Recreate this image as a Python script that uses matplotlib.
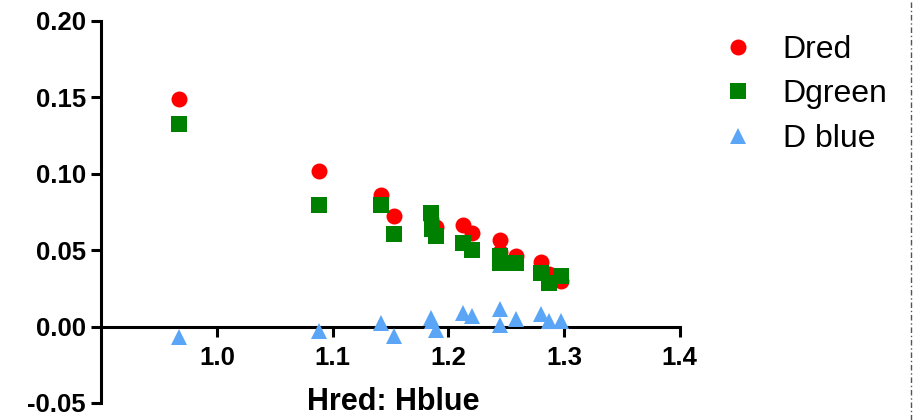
import matplotlib
matplotlib.use("Agg")
import matplotlib.pyplot as plt
from matplotlib.lines import Line2D

# ---- data ----
hratio = [0.967, 1.088, 1.142, 1.153, 1.185, 1.186, 1.189, 1.213, 1.220,
          1.245, 1.245, 1.258, 1.280, 1.287, 1.297]
d_red = [0.1487, 0.1015, 0.0863, 0.0721, 0.0700, 0.0660, 0.0650, 0.0667, 0.0613,
         0.0565, 0.0485, 0.0461, 0.0421, 0.0341, 0.0297]
d_green = [0.1326, 0.0798, 0.0798, 0.0607, 0.0744, 0.0635, 0.0591, 0.0548, 0.0500,
           0.0459, 0.0416, 0.0417, 0.0352, 0.0287, 0.0330]
d_blue = [-0.0070, -0.0031, 0.0026, -0.0061, 0.0054, 0.0035, -0.0024, 0.0091, 0.0069,
          0.0113, 0.0010, 0.0048, 0.0085, 0.0033, 0.0037]
series_names = ["Dred", "Dgreen", "D blue"]
x_ticks = [1.0, 1.1, 1.2, 1.3, 1.4]
x_ticklabels = ["1.0", "1.1", "1.2", "1.3", "1.4"]
y_ticks = [-0.05, 0.00, 0.05, 0.10, 0.15, 0.20]
y_ticklabels = ["-0.05", "0.00", "0.05", "0.10", "0.15", "0.20"]
x_label = "Hred: Hblue"

plt.rcParams['font.family'] = ['Liberation Sans', 'DejaVu Sans']

W, H = 913, 420
fig = plt.figure(figsize=(W / 100, H / 100), dpi=100)
ax = fig.add_axes([101.3 / W, 17 / H, 578.5 / W, 382.3 / H])

ms = 11.5
ax.plot(hratio, d_red, linestyle='none', marker='o', markersize=ms, color='#FF0000',
        markeredgewidth=0, label=series_names[0], zorder=3, clip_on=False)
ax.plot(hratio, d_green, linestyle='none', marker='s', markersize=ms, color='#008000',
        markeredgewidth=0, label=series_names[1], zorder=3, clip_on=False)
ax.plot(hratio, d_blue, linestyle='none', marker='^', markersize=ms, color='#5AA5F5',
        markeredgewidth=0, label=series_names[2], zorder=3, clip_on=False)

ax.set_xlim(0.9, 1.4)
ax.set_ylim(-0.05, 0.20)
ax.spines['top'].set_visible(False)
ax.spines['right'].set_visible(False)
ax.spines['bottom'].set_position(('data', 0))
for s in ('left', 'bottom'):
    ax.spines[s].set_linewidth(2.2)
    ax.spines[s].set_color('black')

ax.set_xticks(x_ticks)
ax.set_xticklabels(x_ticklabels, fontsize=18.5, fontweight='bold')
ax.set_yticks(y_ticks)
ax.set_yticklabels(y_ticklabels, fontsize=18.5, fontweight='bold')
ax.tick_params(axis='both', direction='out', length=7, width=2.2, color='black')
ax.tick_params(axis='y', pad=4)
ax.tick_params(axis='x', pad=7)

fig.text(393 / W, 1 - 410 / H, x_label, ha='center', va='baseline',
         fontsize=22, fontweight='bold')

leg = ax.legend(loc='upper left', bbox_to_anchor=(722 / W, 1 - 35 / H),
                bbox_transform=fig.transFigure, frameon=False, fontsize=23,
                handlelength=1.0, handletextpad=0.9, labelspacing=0.45,
                borderaxespad=0, borderpad=0)

fig.add_artist(Line2D([911 / W, 911 / W], [0, 1], transform=fig.transFigure,
                      color='#555555', linewidth=1.0, linestyle=(0, (4, 2, 1, 2))))

fig.savefig("out.png", dpi=100)
